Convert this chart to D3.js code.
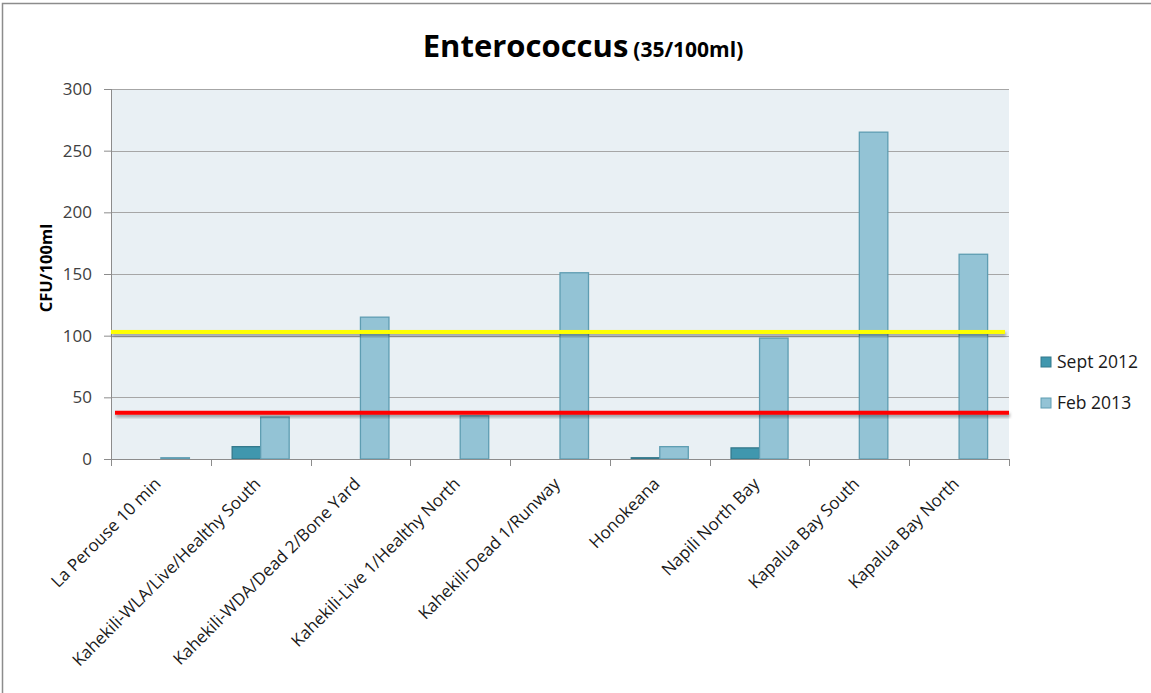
<!DOCTYPE html>
<meta charset="utf-8">
<style>
  body { margin: 0; background: #fff; }
  text { font-family: "Open Sans", "Noto Sans", sans-serif; }
</style>
<svg width="1151" height="693"></svg>
<script src="https://d3js.org/d3.v7.min.js"></script>
<script>
var sites = ["La Perouse 10 min", "Kahekili-WLA/Live/Healthy South", "Kahekili-WDA/Dead 2/Bone Yard",
  "Kahekili-Live 1/Healthy North", "Kahekili-Dead 1/Runway", "Honokeana", "Napili North Bay",
  "Kapalua Bay South", "Kapalua Bay North"]
var seriesNames = ["Sept 2012", "Feb 2013"]
var sept2012 = [0, 10, 0, 0, 0, 1, 9, 0, 0]
var feb2013 = [1, 34, 115, 35, 151, 10, 98, 265, 166]
var yTicks = [0, 50, 100, 150, 200, 250, 300]
// hand-drawn reference lines on the original sheet
var limits = [103, 37.5]

var fills = ["#4097ae", "#93c3d5"]
var strokes = ["#33788b", "#5e9db2"]

var svg = d3.select("svg")
var margin = { left: 111, right: 142, top: 89, bottom: 234 }
var width = 1151 - margin.left - margin.right
var height = 693 - margin.top - margin.bottom

// outer frame (only top and left visible in the original crop)
svg.append("path")
  .attr("d", "M2.5,693 V3.5 H1151")
  .attr("fill", "none").attr("stroke", "#8c8c8c").attr("stroke-width", 1.5)

var defs = svg.append("defs")
var f = defs.append("filter").attr("id", "shadow").attr("x", "-5%").attr("y", "-100%").attr("width", "110%").attr("height", "300%")
f.append("feDropShadow").attr("dx", 1).attr("dy", 2.5).attr("stdDeviation", 1.5).attr("flood-color", "#000").attr("flood-opacity", 0.35)

var g = svg.append("g").attr("transform", "translate(" + margin.left + "," + margin.top + ")")

var x0 = d3.scaleBand().domain(sites).range([0, width])
var x1 = d3.scaleBand().domain(seriesNames).range([x0.bandwidth() * 0.2143, x0.bandwidth() * 0.7857])
var y = d3.scaleLinear().domain([0, 300]).range([height, 0])

g.append("rect").attr("width", width).attr("height", height).attr("fill", "#e9f0f4")

// gridlines
g.selectAll(".grid").data(yTicks.slice(1)).enter().append("line")
  .attr("x1", 0).attr("x2", width)
  .attr("y1", function (d) { return Math.round(y(d)) + 0.5 })
  .attr("y2", function (d) { return Math.round(y(d)) + 0.5 })
  .attr("stroke", "#a6a6a6").attr("stroke-width", 1.2)

// bars
var data = sites.map(function (s, i) { return { site: s, vals: [sept2012[i], feb2013[i]] } })
var groups = g.selectAll(".site").data(data).enter().append("g")
  .attr("transform", function (d) { return "translate(" + x0(d.site) + ",0)" })
groups.selectAll("rect").data(function (d) {
  return d.vals.map(function (v, j) { return { name: seriesNames[j], v: v, j: j } }).filter(function (e) { return e.v > 0 })
}).enter().append("rect")
  .attr("x", function (d) { return x1(d.name) })
  .attr("width", x1.bandwidth())
  .attr("y", function (d) { return y(d.v) })
  .attr("height", function (d) { return y(0) - y(d.v) })
  .attr("fill", function (d) { return fills[d.j] })
  .attr("stroke", function (d) { return strokes[d.j] })
  .attr("stroke-width", 1.3)

// y axis
var yAxis = g.append("g").call(d3.axisLeft(y).tickValues(yTicks).tickSize(7).tickPadding(12))
yAxis.select(".domain").attr("stroke", "#8c8c8c").attr("d", "M0.5," + height + "V0")
yAxis.selectAll(".tick line").attr("stroke", "#8c8c8c")
yAxis.selectAll("text").attr("font-size", 17).attr("fill", "#404040")
  .style("font-family", "'Open Sans', sans-serif")

// x axis
var xAxis = g.append("g").attr("transform", "translate(0," + height + ")")
xAxis.append("line").attr("x1", 0).attr("x2", width).attr("y1", 0.5).attr("y2", 0.5).attr("stroke", "#8c8c8c")
xAxis.selectAll(".xt").data(d3.range(sites.length + 1)).enter().append("line")
  .attr("x1", function (i) { return Math.round(i * x0.step()) + 0.5 })
  .attr("x2", function (i) { return Math.round(i * x0.step()) + 0.5 })
  .attr("y1", 0).attr("y2", 7).attr("stroke", "#8c8c8c")
xAxis.selectAll(".xl").data(sites).enter().append("text")
  .attr("transform", function (d) { return "translate(" + (x0(d) + x0.bandwidth() / 2 + 1) + ",26) rotate(-45)" })
  .attr("text-anchor", "end")
  .attr("font-size", 17).attr("fill", "#1a1a1a")
  .text(function (d) { return d })

// limit lines
g.selectAll(".limit").data(limits).enter().append("rect")
  .attr("x", function (d, i) { return i === 0 ? 0 : 4 })
  .attr("width", width - 4)
  .attr("y", function (d) { return y(d) - 2 })
  .attr("height", 4)
  .attr("fill", function (d, i) { return i === 0 ? "#ffff00" : "#ff0000" })
  .attr("filter", "url(#shadow)")

// y title
svg.append("text")
  .attr("transform", "translate(52," + (margin.top + height / 2 - 6) + ") rotate(-90)")
  .attr("text-anchor", "middle").attr("font-size", 16.5).attr("font-weight", "bold")
  .attr("fill", "#000").text("CFU/100ml")

// title
var title = svg.append("text").attr("x", 583).attr("y", 57).attr("text-anchor", "middle").attr("fill", "#000")
title.append("tspan").attr("font-size", 31).attr("font-weight", "bold").text("Enterococcus")
title.append("tspan").attr("font-size", 21).attr("font-weight", "bold").attr("dx", 5).text("(35/100ml)")

// legend
var legend = svg.append("g").attr("transform", "translate(1041,357)")
var li = legend.selectAll("g").data(seriesNames).enter().append("g")
  .attr("transform", function (d, i) { return "translate(0," + i * 41 + ")" })
li.append("rect").attr("width", 10).attr("height", 10)
  .attr("fill", function (d, i) { return fills[i] })
  .attr("stroke", function (d, i) { return strokes[i] })
li.append("text").attr("x", 16).attr("y", 11).attr("font-size", 17.5).attr("fill", "#1a1a1a")
  .text(function (d) { return d })
</script>
